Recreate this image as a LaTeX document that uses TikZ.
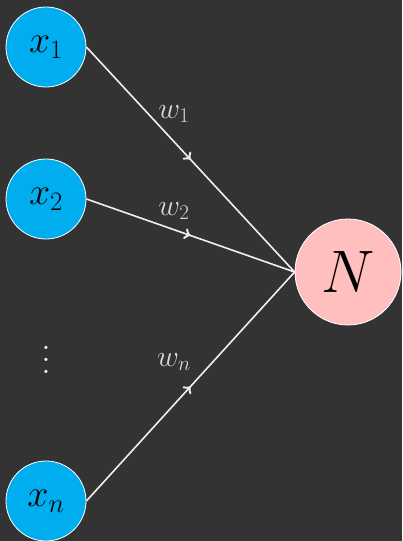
\RequirePackage{fix-cm}
\documentclass[tikz,border=0pt]{standalone}
\usetikzlibrary{decorations.markings}
\definecolor{bgc}{RGB}{51,51,51}
\definecolor{inc}{RGB}{0,174,239}
\definecolor{outc}{RGB}{255,191,191}
\begin{document}
\begin{tikzpicture}[x=1pt,y=-1pt,
 inp/.style={circle,fill=inc,draw=white,line width=0.8pt,minimum size=80pt,inner sep=0pt,font=\fontsize{38}{44}\selectfont},
 outn/.style={circle,fill=outc,draw=white,line width=0.8pt,minimum size=106pt,inner sep=0pt,font=\fontsize{60}{66}\selectfont},
 conn/.style={draw=white!94!black,line width=1.6pt,postaction={decorate},decoration={markings,mark=at position 0.5 with {\arrow[scale=1.5]{>}}}},
 wlab/.style={text=white!85!black,font=\fontsize{30}{34}\selectfont,inner sep=0pt}]
\useasboundingbox (0,0) rectangle (402,541);
\fill[bgc] (0,0) rectangle (402,541);
\node[inp] (x1) at (46,47) {$x_1$};
\node[inp] (x2) at (46,199) {$x_2$};
\node[inp] (xn) at (46,501) {$x_n$};
\node[text=white,inner sep=0pt] (dots) at (46,351) {\scalebox{3}{$\vdots$}};
\node[outn] (N) at (348,272) {$N$};
\draw[conn] (x1.east) -- (N.west);
\draw[conn] (x2.east) -- (N.west);
\draw[conn] (xn.east) -- (N.west);
\node[wlab] (w1) at (174,114) {$w_1$};
\node[wlab] (w2) at (174,211) {$w_2$};
\node[wlab] (wn) at (174,362) {$w_n$};
\end{tikzpicture}
\end{document}
